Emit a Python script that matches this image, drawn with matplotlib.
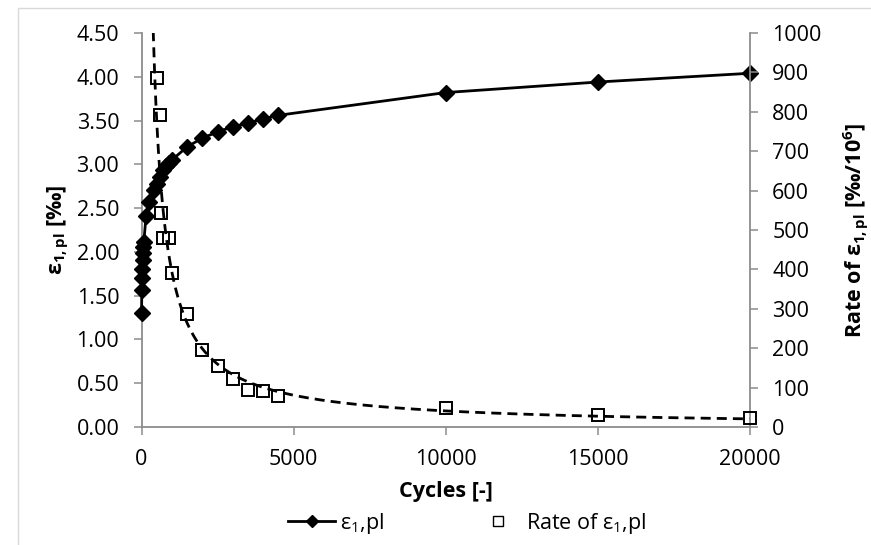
import numpy as np
import matplotlib
matplotlib.use("Agg")
import matplotlib.pyplot as plt
from matplotlib.lines import Line2D
from matplotlib.patches import Rectangle

plt.rcParams['font.family'] = ['Open Sans', 'DejaVu Sans']
plt.rcParams['mathtext.fontset'] = 'custom'
plt.rcParams['mathtext.rm'] = 'Open Sans'
plt.rcParams['mathtext.it'] = 'Open Sans'
plt.rcParams['mathtext.bf'] = 'Open Sans:bold'

# accumulated plastic strain
cycles_eps = [1, 10, 20, 30, 40, 50, 60, 75, 150, 250, 400, 500, 600, 700, 800,
              900, 1000, 1500, 2000, 2500, 3000, 3500, 4000, 4500, 10000, 15000, 20000]
eps_pl = [1.30, 1.56, 1.70, 1.81, 1.91, 1.99, 2.06, 2.11, 2.41, 2.57, 2.71, 2.78,
          2.86, 2.93, 2.98, 3.02, 3.05, 3.20, 3.30, 3.37, 3.43, 3.47, 3.52, 3.56,
          3.82, 3.94, 4.04]

# strain rate
cycles_rate = [500, 600, 650, 700, 900, 1000, 1500, 2000, 2500, 3000, 3500, 4000,
               4500, 10000, 15000, 20000]
rate = [885, 792, 542, 480, 480, 392, 287, 195, 156, 121, 94, 92, 79, 47, 30, 22]

x_ticks = [0, 5000, 10000, 15000, 20000]
eps_ticks = np.arange(0, 4.51, 0.5)
rate_ticks = np.arange(0, 1001, 100)

grey = '#8c8c8c'
fs = 15.5

fig = plt.figure(figsize=(8.71, 5.45), dpi=100)
fig.patches.append(Rectangle((18 / 871, -0.1), 2, 1 - 8 / 545 + 0.1, fill=False,
                             edgecolor='#d9d9d9', lw=1, transform=fig.transFigure))
ax = fig.add_axes([141.5 / 871, 1 - 427 / 545, (750 - 141.5) / 871, 394 / 545])
ax2 = ax.twinx()

ax.plot(cycles_eps, eps_pl, color='black', lw=2, marker='D', ms=8.5, zorder=3,
        clip_on=False)
ax2.plot(cycles_rate, rate, ls='none', marker='s', ms=8, mfc='none', mec='black',
         mew=1.4, zorder=3, clip_on=False)

# power-law trendline for the rate
b, a = np.polyfit(np.log(cycles_rate), np.log(rate), 1)
n_fit = np.geomspace(200, 20000, 400)
ax2.plot(n_fit, np.exp(a) * n_fit ** b, color='black', lw=2, dashes=(3.6, 2.2))

ax.set_xlim(0, 20000)
ax.set_ylim(0, 4.5)
ax2.set_ylim(0, 1000)
ax.set_xticks(x_ticks)
ax.set_yticks(eps_ticks)
ax.set_yticklabels(['%.2f' % v for v in eps_ticks])
ax2.set_yticks(rate_ticks)

for a_ in (ax, ax2):
    for s in a_.spines.values():
        s.set_color(grey)
        s.set_linewidth(1.3)
    a_.spines['top'].set_visible(False)
    a_.tick_params(length=6, width=1.1, color=grey, labelsize=fs, pad=10)
ax.spines['right'].set_visible(False)
ax2.spines['left'].set_visible(False)
ax2.spines['bottom'].set_visible(False)

ax.set_xlabel('Cycles [-]', fontsize=fs, fontweight='bold', labelpad=8)
ax.set_ylabel(r'$\mathbf{ε_{1,pl}}$ [‰]', fontsize=fs, fontweight='bold', labelpad=4)
ax2.set_ylabel(r'Rate of $\mathbf{ε_{1,pl}}$ [‰/$\mathbf{10^{6}}$]', fontsize=fs,
               fontweight='bold', labelpad=14)

handles = [Line2D([], [], color='black', lw=2, marker='D', ms=6.5),
           Line2D([], [], ls='none', marker='s', ms=7, mfc='none', mec='black', mew=1)]
fig.legend(handles, [r'$ε_1$,pl', r'Rate of $ε_1$,pl'], loc='center',
           bbox_to_anchor=(0.536, 1 - 523 / 545), ncol=2, frameon=False,
           fontsize=fs, handlelength=2.2, handletextpad=0.2, columnspacing=4.2)

fig.savefig('out.png', dpi=100)
